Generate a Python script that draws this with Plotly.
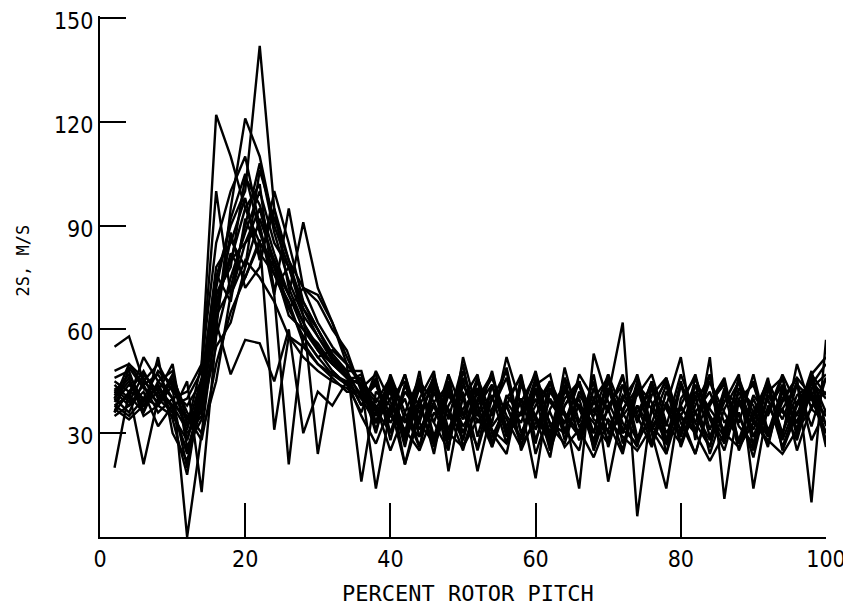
import plotly.graph_objects as go

x_pct = [2, 4, 6, 8, 10, 12, 14, 16, 18, 20, 22, 24, 26, 28, 30, 32, 34,
         36, 38, 40, 42, 44, 46, 48, 50, 52, 54, 56, 58, 60, 62, 64, 66, 68,
         70, 72, 74, 76, 78, 80, 82, 84, 86, 88, 90, 92, 94, 96, 98, 100]

s01 = [40, 45, 38, 42, 36, 25, 40, 75, 90, 100, 142, 95, 80, 72, 62, 55, 50,
       44, 30, 46, 27, 40, 24, 45, 30, 42, 26, 38, 47, 28, 40, 33, 45, 25, 38, 44, 27, 36, 46, 30, 41, 24, 37, 45, 29, 40, 26, 38, 46, 36]
s02 = [48, 50, 44, 47, 40, 32, 50, 122, 110, 95, 85, 78, 70, 62, 55, 50, 46,
       38, 46, 28, 44, 33, 47, 31, 42, 25, 40, 34, 26, 43, 30, 46, 28, 39, 33, 24, 42, 37, 27, 44, 31, 39, 46, 27, 35, 43, 30, 41, 44, 50]
s03 = [36, 42, 48, 40, 45, 30, 35, 60, 95, 121, 110, 90, 78, 68, 60, 52, 48,
       48, 33, 40, 45, 29, 38, 26, 44, 35, 48, 30, 40, 27, 45, 36, 30, 47, 26, 40, 34, 45, 24, 38, 30, 47, 28, 42, 33, 46, 25, 36, 40, 30]
s04 = [42, 38, 44, 36, 40, 20, 45, 70, 80, 85, 90, 70, 95, 72, 68, 60, 54,
       42, 38, 25, 36, 46, 28, 41, 34, 45, 30, 24, 44, 35, 27, 42, 38, 30, 45, 33, 26, 44, 37, 29, 46, 34, 25, 40, 44, 31, 37, 28, 43, 47]
s05 = [38, 35, 40, 43, 38, 35, 28, 50, 65, 75, 85, 80, 70, 91, 72, 62, 50,
       45, 40, 35, 30, 43, 33, 47, 26, 38, 44, 29, 36, 48, 32, 27, 41, 35, 43, 30, 38, 27, 42, 35, 24, 39, 44, 32, 27, 45, 36, 33, 41, 28]
s06 = [55, 58, 45, 50, 42, 38, 45, 62, 47, 57, 56, 45, 60, 30, 42, 38, 45,
       35, 27, 38, 31, 25, 36, 30, 26, 34, 29, 38, 27, 33, 36, 26, 31, 23, 34, 29, 25, 32, 27, 35, 30, 22, 30, 26, 33, 28, 24, 31, 37, 33]
s07 = [40, 50, 46, 38, 44, 0, 30, 45, 70, 80, 75, 68, 58, 55, 50, 47, 45,
       47, 36, 42, 26, 45, 39, 29, 48, 35, 41, 27, 46, 24, 37, 44, 28, 40, 46, 31, 27, 43, 32, 47, 36, 26, 41, 35, 25, 42, 46, 30, 45, 40]
s08 = [20, 42, 21, 40, 36, 45, 13, 58, 75, 88, 100, 85, 78, 66, 60, 53, 48,
       40, 44, 33, 40, 26, 43, 37, 28, 46, 35, 49, 30, 38, 45, 31, 25, 43, 36, 47, 29, 33, 44, 26, 38, 47, 28, 36, 23, 41, 34, 45, 28, 37]
s09 = [44, 40, 52, 45, 48, 28, 42, 68, 80, 95, 102, 70, 21, 58, 52, 54, 50,
       16, 42, 38, 21, 35, 45, 28, 40, 47, 27, 39, 33, 46, 25, 38, 44, 30, 47, 36, 28, 41, 46, 33, 24, 38, 45, 27, 40, 30, 43, 25, 38, 42]
s10 = [35, 38, 42, 32, 38, 40, 48, 100, 70, 85, 95, 78, 64, 60, 56, 50, 46,
       44, 14, 37, 47, 33, 27, 47, 36, 26, 44, 30, 45, 34, 23, 46, 37, 28, 41, 62, 6, 38, 45, 27, 36, 42, 30, 46, 26, 37, 44, 31, 47, 27]
s11 = [46, 48, 36, 52, 30, 22, 38, 64, 72, 90, 108, 88, 74, 64, 24, 48, 44,
       46, 33, 44, 30, 48, 26, 38, 45, 33, 40, 48, 25, 35, 45, 28, 42, 36, 47, 27, 38, 31, 24, 44, 36, 28, 43, 33, 47, 30, 37, 44, 32, 46]
s12 = [39, 44, 40, 48, 44, 33, 36, 55, 62, 78, 92, 80, 66, 72, 70, 62, 52,
       43, 47, 30, 42, 36, 44, 26, 46, 38, 27, 40, 46, 31, 42, 35, 29, 43, 37, 25, 44, 39, 28, 45, 33, 26, 42, 38, 45, 29, 40, 46, 10, 57]
s13 = [37, 34, 38, 44, 34, 18, 44, 78, 85, 98, 80, 95, 72, 62, 54, 48, 44,
       41, 37, 45, 29, 44, 33, 25, 52, 36, 26, 41, 35, 44, 47, 30, 38, 33, 27, 40, 46, 31, 38, 52, 28, 52, 11, 40, 31, 44, 28, 39, 45, 26]
s14 = [41, 46, 35, 38, 46, 36, 30, 62, 88, 72, 78, 100, 85, 68, 60, 52, 47,
       38, 45, 35, 47, 31, 39, 44, 28, 43, 33, 52, 38, 17, 43, 36, 14, 53, 39, 30, 45, 27, 42, 35, 44, 29, 39, 47, 14, 38, 30, 44, 40, 35]
s15 = [43, 39, 47, 42, 50, 26, 34, 72, 92, 105, 88, 76, 68, 56, 50, 46, 42,
       42, 35, 46, 28, 40, 48, 19, 41, 19, 37, 46, 30, 40, 25, 49, 33, 45, 16, 37, 43, 30, 14, 40, 46, 35, 27, 43, 38, 26, 44, 35, 48, 32]
s16 = [38, 41, 36, 45, 40, 42, 50, 85, 100, 110, 90, 72, 78, 64, 58, 52, 46,
       46, 31, 43, 21, 38, 46, 34, 50, 29, 44, 32, 39, 47, 28, 40, 45, 27, 37, 46, 33, 45, 28, 38, 47, 31, 42, 25, 36, 45, 29, 50, 37, 46]
s17 = [45, 42, 40, 38, 35, 28, 45, 66, 82, 75, 86, 31, 58, 52, 48, 45, 43,
       40, 33, 47, 36, 26, 42, 30, 37, 43, 31, 27, 40, 34, 29, 43, 32, 37, 28, 44, 35, 26, 39, 31, 42, 35, 29, 46, 34, 27, 42, 33, 47, 41]
s18 = [40, 36, 45, 41, 38, 31, 46, 76, 68, 92, 82, 76, 66, 58, 52, 47, 44,
       36, 48, 39, 33, 45, 29, 42, 32, 39, 46, 35, 29, 42, 33, 30, 47, 40, 30, 35, 41, 47, 33, 27, 40, 45, 33, 39, 29, 36, 47, 38, 42, 30]
s19 = [42, 47, 39, 44, 37, 24, 40, 70, 78, 104, 96, 82, 70, 60, 54, 50, 47,
       41, 37, 30, 44, 38, 27, 43, 35, 46, 32, 38, 28, 45, 39, 33, 40, 26, 43, 36, 47, 32, 38, 29, 44, 37, 31, 45, 36, 29, 39, 46, 41, 35]
s20 = [36, 49, 43, 39, 47, 34, 38, 66, 86, 78, 106, 92, 80, 66, 58, 51, 46,
       44, 39, 46, 34, 29, 44, 36, 25, 40, 47, 31, 36, 42, 28, 38, 45, 34, 31, 41, 36, 44, 30, 37, 33, 45, 36, 28, 41, 35, 46, 29, 47, 52]

series = [s01, s02, s03, s04, s05, s06, s07, s08, s09, s10,
          s11, s12, s13, s14, s15, s16, s17, s18, s19, s20]

x_ticks = [0, 20, 40, 60, 80, 100]
y_ticks = [30, 60, 90, 120, 150]

fig = go.Figure()
for s in series:
    fig.add_trace(go.Scatter(x=x_pct, y=s, mode="lines",
                             line=dict(color="black", width=2.4),
                             showlegend=False, hoverinfo="skip"))

tick_font = dict(family="Liberation Sans Narrow, DejaVu Sans Condensed, DejaVu Sans Mono",
                 size=23, color="black")

fig.update_layout(
    template="none",
    width=851, height=613,
    margin=dict(l=92, r=33, t=8, b=84),
    paper_bgcolor="white", plot_bgcolor="white",
    xaxis=dict(range=[0, 100], tickvals=x_ticks, ticktext=[str(v) for v in x_ticks],
               ticks="inside", ticklen=34, tickwidth=2, tickcolor="black",
               showline=True, linecolor="black", linewidth=2, automargin=False,
               showgrid=False, zeroline=False, tickfont=tick_font,
               ticklabelstandoff=0, ticklabeloverflow="allow"),
    yaxis=dict(range=[0, 150.6], tickvals=y_ticks, ticktext=[str(v) for v in y_ticks],
               ticks="inside", ticklen=26, tickwidth=2, tickcolor="black",
               showline=True, linecolor="black", linewidth=2, automargin=False,
               showgrid=False, zeroline=False, tickfont=tick_font,
               ticklabelstandoff=0, ticklabelshift=3, ticklabeloverflow="allow"),
    annotations=[
        dict(text="PERCENT ROTOR PITCH", xref="paper", yref="paper",
             x=0.507, y=-0.108, xanchor="center", yanchor="middle", showarrow=False,
             font=dict(family="DejaVu Sans Mono", size=22, color="black")),
        dict(text="2S, M/S", xref="paper", yref="paper",
             x=-0.106, y=0.531, xanchor="center", yanchor="middle", showarrow=False,
             textangle=-90,
             font=dict(family="DejaVu Sans Mono", size=17, color="black")),
    ],
)

fig.write_html("out.html")
